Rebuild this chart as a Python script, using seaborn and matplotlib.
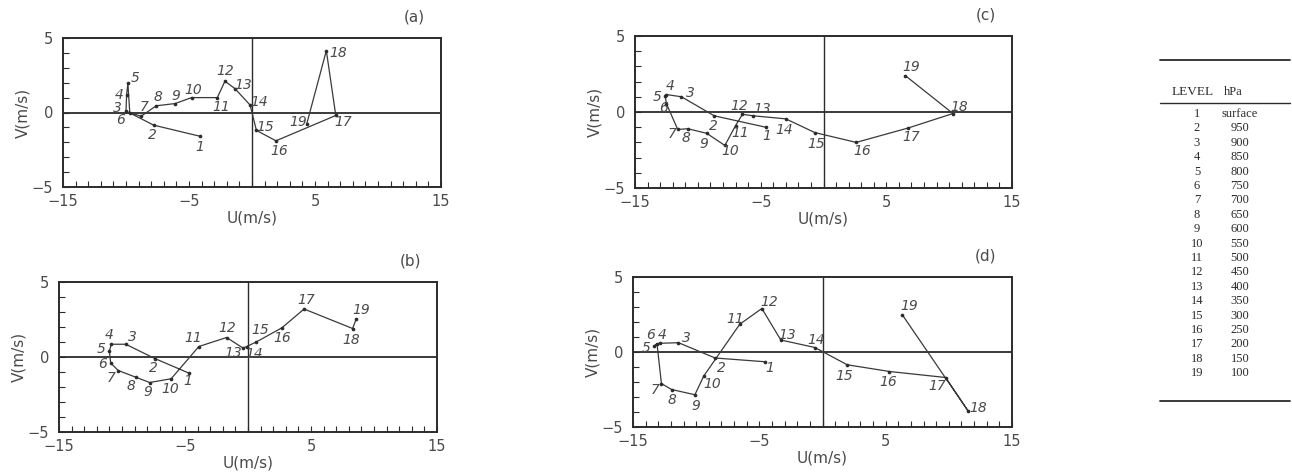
import pandas as pd
import seaborn as sns
import matplotlib.pyplot as plt
from matplotlib.lines import Line2D

# level numbers and pressures (table on the right)
levels = ["1", "2", "3", "4", "5", "6", "7", "8", "9", "10",
          "11", "12", "13", "14", "15", "16", "17", "18", "19"]
pressures = ["surface", "950", "900", "850", "800", "750", "700", "650", "600", "550",
             "500", "450", "400", "350", "300", "250", "200", "150", "100"]

# hodograph (a)
u_a = [-4.1, -7.8, -10.0, -9.95, -9.85, -9.7, -8.8, -7.6, -6.1, -4.8,
       -2.75, -2.15, -1.35, -0.15, 0.35, 1.9, 6.65, 5.9, 4.35]
v_a = [-1.6, -0.85, 0.1, 1.2, 1.95, 0.0, -0.25, 0.45, 0.6, 1.0,
       1.0, 2.1, 1.6, 0.5, -1.2, -1.9, -0.2, 4.15, -0.75]

# hodograph (b)
u_b = [-4.7, -7.4, -9.7, -10.85, -11.0, -10.9, -10.3, -8.9, -7.8, -6.1,
       -3.9, -1.7, -0.4, -0.1, 0.65, 2.7, 4.45, 8.3, 8.6]
v_b = [-1.07, -0.1, 0.85, 0.85, 0.4, -0.4, -0.9, -1.35, -1.7, -1.45,
       0.7, 1.3, 0.6, 0.7, 1.0, 1.95, 3.2, 1.9, 2.55]

# hodograph (c)
u_c = [-4.6, -8.7, -11.3, -12.5, -12.6, -12.5, -11.6, -10.8, -9.3, -7.85,
       -7.0, -6.45, -5.6, -3.0, -0.7, 2.6, 6.75, 10.3, 6.5]
v_c = [-1.0, -0.25, 1.0, 1.15, 1.05, 0.55, -1.15, -1.1, -1.4, -2.2,
       -0.9, -0.15, -0.25, -0.45, -1.35, -2.0, -1.05, -0.1, 2.4]

# hodograph (d)
u_d = [-4.55, -8.5, -11.4, -12.9, -13.3, -13.1, -12.75, -11.95, -10.1, -9.4,
       -6.55, -4.8, -3.3, -0.6, 1.95, 5.3, 9.75, 11.5, 6.3]
v_d = [-0.65, -0.4, 0.62, 0.58, 0.42, 0.55, -2.1, -2.5, -2.85, -1.6,
       1.85, 2.9, 0.8, 0.3, -0.85, -1.3, -1.7, -3.9, 2.5]

# label offsets in pixels (style only)
off_a = [(-1, -11), (-1, -10), (-9, 3), (-7, 0), (7, 5), (-9, -8), (3, 9), (2, 9), (1, 8), (2, 8),
         (4, -9), (0, 10), (8, 4), (9, 3), (9, 3), (3, -10), (7, -7), (12, -2), (-9, 2)]
off_b = [(-1, -8), (-1, -10), (7, 7), (-2, 9), (-8, 2), (-8, -1), (-7, -7), (-5, -9), (-2, -9), (-1, -10),
         (-6, 8), (1, 9), (-10, -5), (7, -7), (4, 12), (0, -10), (2, 9), (-1, -11), (5, 9)]
off_c = [(1, -9), (-1, -10), (9, 4), (4, 9), (-8, -1), (-3, -4), (-6, -5), (-2, -9), (-3, -11), (5, -6),
         (5, -7), (-3, 8), (9, 7), (-2, -11), (1, -11), (6, -9), (3, -9), (6, 7), (6, 9)]
off_d = [(5, -6), (6, -10), (8, 5), (3, 8), (-8, -2), (-6, 9), (-6, -7), (0, -10), (1, -11), (8, -8),
         (-5, 5), (7, 6), (6, 5), (1, 8), (-3, -11), (-1, -11), (-8, -9), (10, 3), (7, 8)]

panels = [
    ("(a)", u_a, v_a, off_a, [63 / 1292, 1 - 187 / 474, 378 / 1292, 149 / 474]),
    ("(b)", u_b, v_b, off_b, [59 / 1292, 1 - 432 / 474, 378 / 1292, 150 / 474]),
    ("(c)", u_c, v_c, off_c, [635 / 1292, 1 - 188 / 474, 377 / 1292, 152 / 474]),
    ("(d)", u_d, v_d, off_d, [633 / 1292, 1 - 427 / 474, 379 / 1292, 150 / 474]),
]

sns.set_style("white")
plt.rcParams["font.family"] = ["DejaVu Sans"]
ink = "#2b2b2b"
txt = "#4a4a4a"

fig = plt.figure(figsize=(12.92, 4.74), dpi=100)

for name, u, v, offs, rect in panels:
    ax = fig.add_axes(rect)
    df = pd.DataFrame({"U": u, "V": v, "level": levels})
    ax.axhline(0, color=ink, lw=1.3, zorder=1)
    ax.axvline(0, color=ink, lw=1.0, zorder=1)
    sns.lineplot(data=df, x="U", y="V", sort=False, estimator=None, ax=ax,
                 color="#3a3a3a", lw=0.9, zorder=2)
    sns.scatterplot(data=df, x="U", y="V", ax=ax, color=ink, s=7,
                    edgecolor=ink, linewidth=0, zorder=3, legend=False)
    for (x, y, lab), (dx, dy) in zip(zip(u, v, levels), offs):
        ax.annotate(lab, (x, y), xytext=(dx, dy), textcoords="offset pixels",
                    ha="center", va="center", fontsize=10, style="italic", color=txt)
    ax.set_xlim(-15, 15)
    ax.set_ylim(-5, 5)
    ax.set_xticks(range(-15, 16))
    ax.set_xticklabels(["−15" if t == -15 else "−5" if t == -5 else str(t) if t in (5, 15) else ""
                        for t in range(-15, 16)])
    ax.set_yticks(range(-5, 6))
    ax.set_yticklabels(["−5" if t == -5 else str(t) if t in (0, 5) else "" for t in range(-5, 6)])
    ax.tick_params(direction="in", length=4, width=0.8, color=ink, labelsize=10.5,
                   labelcolor=txt, bottom=True, left=True)
    ax.tick_params(axis="x", pad=5)
    ax.tick_params(axis="y", pad=7)
    for s in ax.spines.values():
        s.set_color(ink)
        s.set_linewidth(1.4)
    ax.set_xlabel("U(m/s)", fontsize=11, color=txt, labelpad=1)
    ax.set_ylabel("V(m/s)", fontsize=11, color=txt, labelpad=1)
    ax.text(0.93, 1.14, name, transform=ax.transAxes, ha="center", va="center",
            fontsize=11, color=txt)

# level table
x0, x1 = 1160 / 1292, 1290 / 1292
for yy, lw in [(1 - 60 / 474, 1.3), (1 - 103 / 474, 1.0), (1 - 401 / 474, 1.3)]:
    fig.add_artist(Line2D([x0, x1], [yy, yy], transform=fig.transFigure, color=ink, lw=lw))
fig.text(1193 / 1292, 1 - 92 / 474, "LEVEL", ha="center", va="center",
         fontsize=9.5, family="Liberation Serif", color=ink)
fig.text(1233 / 1292, 1 - 92 / 474, "hPa", ha="center", va="center",
         fontsize=9, family="Liberation Serif", color=ink)
for i, (lev, p) in enumerate(zip(levels, pressures)):
    yy = 1 - (114 + i * 14.4) / 474
    fig.text(1197 / 1292, yy, lev, ha="center", va="center", fontsize=9,
             family="Liberation Serif", color=ink)
    fig.text(1240 / 1292, yy, p, ha="center", va="center", fontsize=9,
             family="Liberation Serif", color=ink)

fig.savefig("out.png", dpi=100, facecolor="white")
